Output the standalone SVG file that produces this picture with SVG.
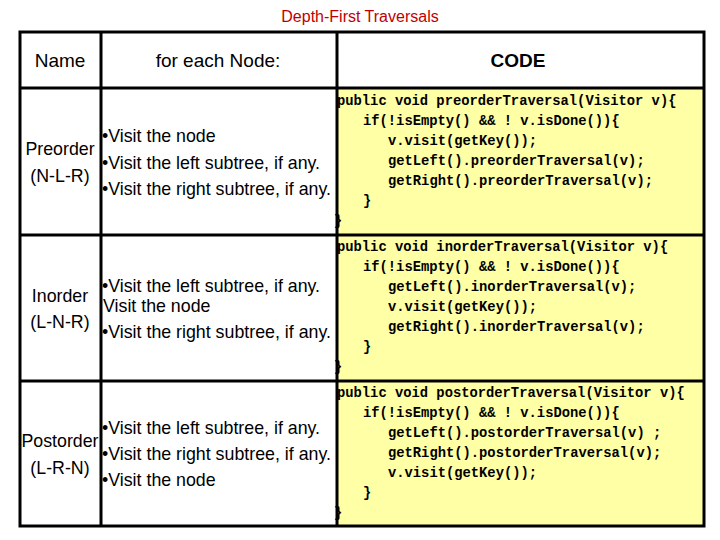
<svg xmlns="http://www.w3.org/2000/svg" width="720" height="540" viewBox="0 0 720 540">
<style>
.s{font-family:"Liberation Sans",Arial,sans-serif;font-size:17.8px;fill:#000}
.h{font-family:"Liberation Sans",Arial,sans-serif;font-size:19px;fill:#000}
.c{font-family:"Liberation Mono","Courier New",monospace;font-size:13.8px;font-weight:bold;fill:#000}
.l{stroke:#000;stroke-width:3;fill:none}
</style>
<rect width="720" height="540" fill="#fff"/>
<text x="360" y="22" text-anchor="middle" font-family="Liberation Sans,Arial,sans-serif" font-size="16" fill="#c00000">Depth-First Traversals</text>
<rect x="337" y="88" width="367" height="438" fill="#ffffa6"/>
<g id="grid">
<rect class="l" x="20" y="32" width="684" height="494"/>
<line class="l" x1="20" y1="88" x2="704" y2="88"/>
<line class="l" x1="20" y1="235" x2="704" y2="235"/>
<line class="l" x1="20" y1="381" x2="704" y2="381"/>
<line class="l" x1="101" y1="32" x2="101" y2="526"/>
<line class="l" x1="337" y1="32" x2="337" y2="526"/>
</g>
<g id="header">
<text class="h" x="60" y="67" text-anchor="middle">Name</text>
<text class="h" x="218" y="67" text-anchor="middle">for each Node:</text>
<text class="h" x="518" y="67" text-anchor="middle" font-weight="bold">CODE</text>
</g>
<g id="preorder">
<text class="s" x="60" y="155" text-anchor="middle">Preorder</text>
<text class="s" x="60" y="182" text-anchor="middle">(N-L-R)</text>
<text class="s" x="102" y="142">•Visit the node</text>
<text class="s" x="102" y="169">•Visit the left subtree, if any.</text>
<text class="s" x="102" y="195">•Visit the right subtree, if any.</text>
<text class="c" x="337" y="105">public void preorderTraversal(Visitor v){</text>
<text class="c" x="363" y="125">if(!isEmpty() &amp;&amp; ! v.isDone()){</text>
<text class="c" x="388" y="145">v.visit(getKey());</text>
<text class="c" x="388" y="165">getLeft().preorderTraversal(v);</text>
<text class="c" x="388" y="185">getRight().preorderTraversal(v);</text>
<text class="c" x="363" y="205">}</text>
<text class="c" x="334" y="225">}</text>
</g>
<g id="inorder">
<text class="s" x="60" y="302" text-anchor="middle">Inorder</text>
<text class="s" x="60" y="328" text-anchor="middle">(L-N-R)</text>
<text class="s" x="102" y="292">•Visit the left subtree, if any.</text>
<text class="s" x="103" y="312">Visit the node</text>
<text class="s" x="102" y="338">•Visit the right subtree, if any.</text>
<text class="c" x="337" y="251">public void inorderTraversal(Visitor v){</text>
<text class="c" x="363" y="271">if(!isEmpty() &amp;&amp; ! v.isDone()){</text>
<text class="c" x="388" y="291">getLeft().inorderTraversal(v);</text>
<text class="c" x="388" y="311">v.visit(getKey());</text>
<text class="c" x="388" y="331">getRight().inorderTraversal(v);</text>
<text class="c" x="363" y="351">}</text>
<text class="c" x="334" y="371">}</text>
</g>
<g id="postorder">
<text class="s" x="60" y="447" text-anchor="middle">Postorder</text>
<text class="s" x="60" y="474" text-anchor="middle">(L-R-N)</text>
<text class="s" x="102" y="434">•Visit the left subtree, if any.</text>
<text class="s" x="102" y="460">•Visit the right subtree, if any.</text>
<text class="s" x="102" y="486">•Visit the node</text>
<text class="c" x="337" y="397">public void postorderTraversal(Visitor v){</text>
<text class="c" x="363" y="417">if(!isEmpty() &amp;&amp; ! v.isDone()){</text>
<text class="c" x="388" y="437">getLeft().postorderTraversal(v) ;</text>
<text class="c" x="388" y="457">getRight().postorderTraversal(v);</text>
<text class="c" x="388" y="477">v.visit(getKey());</text>
<text class="c" x="363" y="497">}</text>
<text class="c" x="334" y="517">}</text>
</g>
</svg>
